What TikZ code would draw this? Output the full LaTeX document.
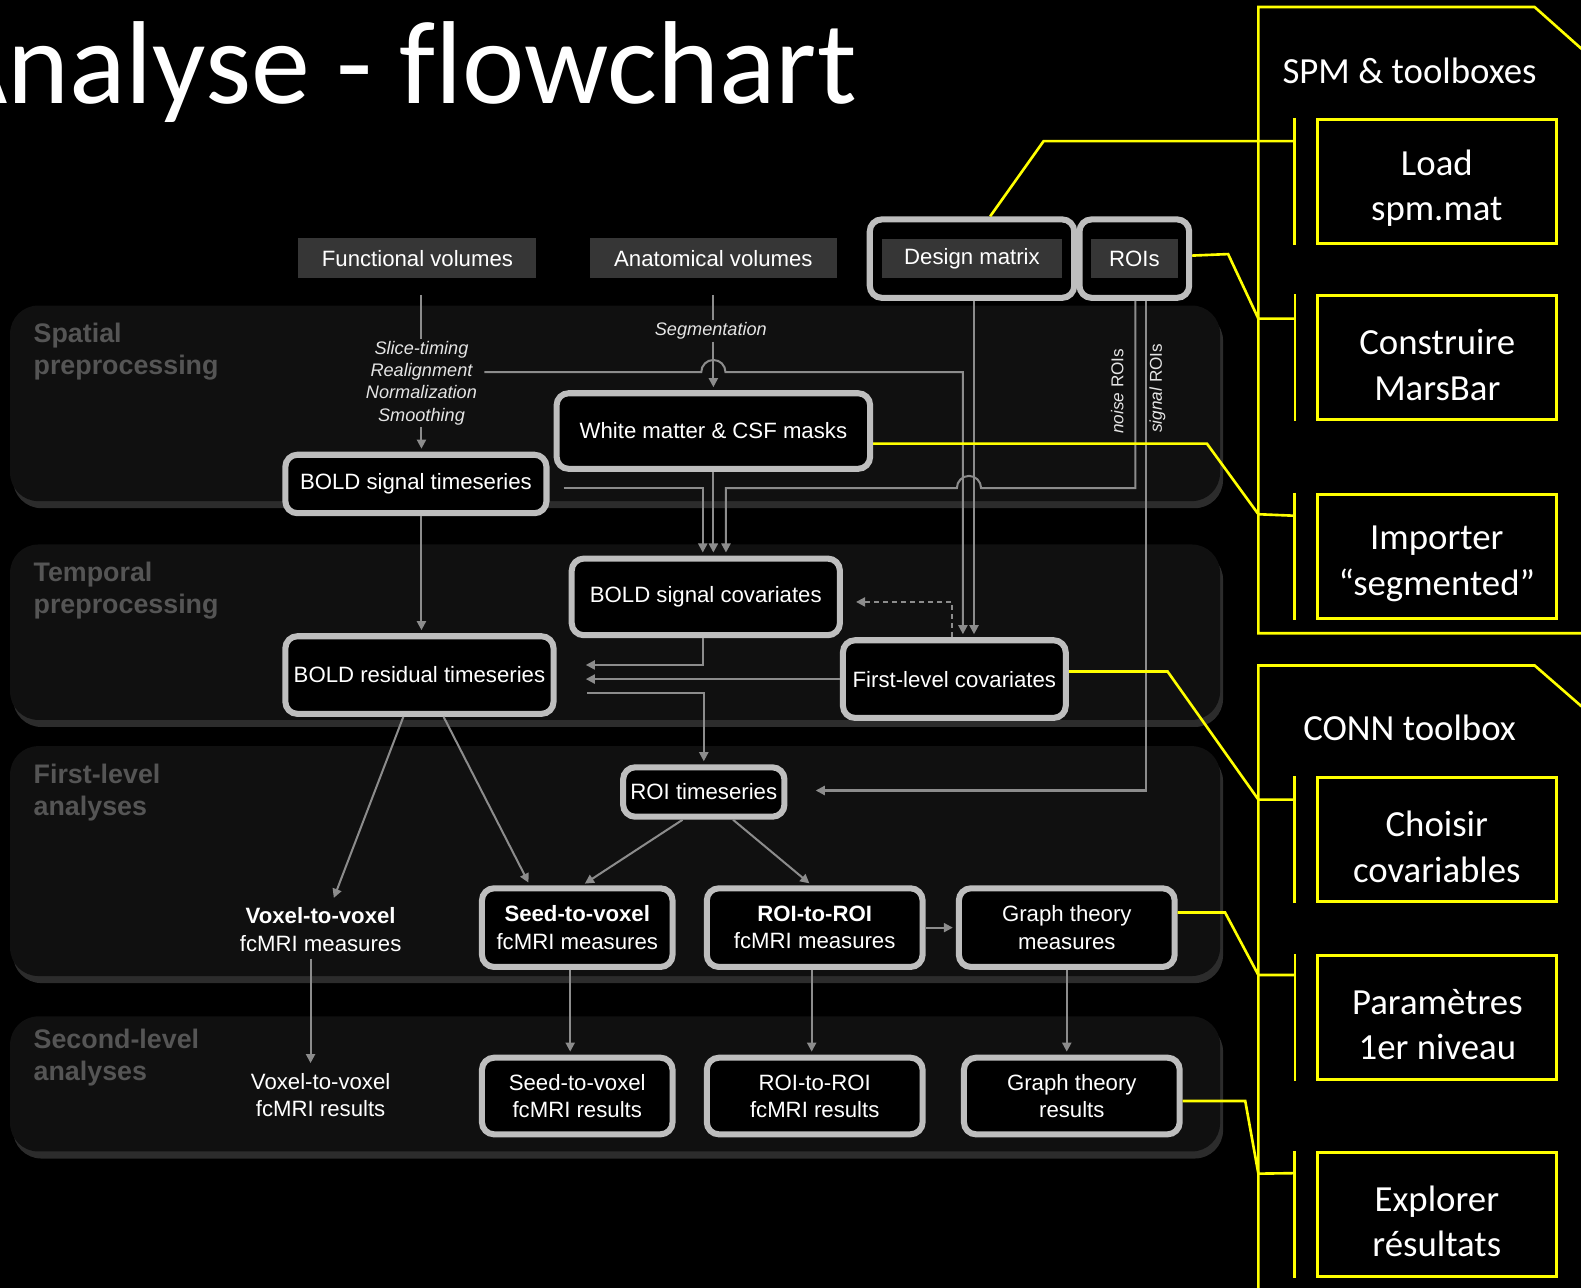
\documentclass[tikz,border=0pt]{standalone}
\usepackage{fontspec}
\setmainfont{Liberation Sans}
\newfontfamily\slidefont{Carlito}[Ligatures=NoCommon]
\usetikzlibrary{arrows.meta,calc,fit}

\definecolor{panelfill}{RGB}{16,16,16}
\definecolor{panelrim}{RGB}{44,44,44}
\definecolor{srcfill}{RGB}{54,54,54}
\definecolor{rimgray}{RGB}{190,190,190}
\definecolor{linegray}{RGB}{140,140,140}
\definecolor{phasegray}{RGB}{85,85,85}
\definecolor{hiyellow}{RGB}{255,255,0}

\tikzset{
  panel/.style={fill=panelfill, rounded corners=14pt},
  panelshadow/.style={fill=panelrim, rounded corners=14pt},
  phase/.style={anchor=north west, inner sep=0pt, align=left, text=phasegray,
    font=\fontsize{13.3}{16}\selectfont\bfseries},
  srcbox/.style={fill=srcfill, text=white, inner sep=0pt, font=\fontsize{11}{13}\selectfont},
  hlbox/.style={draw=rimgray, line width=3pt, rounded corners=6pt, fill=black, text=white,
    inner sep=0pt, align=center, font=\fontsize{11}{13.5}\selectfont},
  plainbox/.style={text=white, align=center, font=\fontsize{11}{13.5}\selectfont},
  stepnote/.style={text=white!90!black, align=center, inner sep=1pt,
    font=\fontsize{9}{11}\selectfont\itshape},
  roinote/.style={text=white!90!black, inner sep=1pt, rotate=90, font=\fontsize{8.5}{10}\selectfont},
  conn/.style={draw=linegray, line width=1pt},
  arr/.style={conn, shorten >=1.5pt, -{Triangle[length=4.5pt,width=4.5pt]}},
  ylw/.style={draw=hiyellow, line width=1.3pt},
  toolbox/.style={draw=hiyellow, line width=1.5pt, fill=black, text=white, align=center,
    minimum width=118.5pt, minimum height=61.5pt, inner sep=0pt,
    font=\slidefont\fontsize{18.25}{22.5}\selectfont},
  toolhead/.style={text=white, font=\slidefont\fontsize{18.25}{22.5}\selectfont},
}
% two lines of a tool box, set a little low as on the slide
\newcommand\toollines[2]{\rule{0pt}{19.5pt}#1\\#2}

\begin{document}
\begin{tikzpicture}[x=0.5pt, y=-0.5pt]

\useasboundingbox (0,0) rectangle (1568,1277);
\fill[black] (0,0) rectangle (1568,1277);
\clip (0,0) rectangle (1568,1277);

% Title
\node[anchor=base east, text=white, inner sep=0pt, font=\slidefont\fontsize{58.5}{70}\selectfont]
  (title) at (850,103) {Analyse - f\kern0pt lowchart};

% Processing stages
\foreach \top/\bot in {303/497, 540/714, 740/968, 1008/1142} {
  \fill[panelshadow] (13,\top+7) rectangle (1213,\bot+7);
  \fill[panel] (10,\top) rectangle (1210,\bot);
}
\node[phase] (spatial) at (33,320) {Spatial\\preprocessing};
\node[phase] (temporal) at (33,557) {Temporal\\preprocessing};
\node[phase] (firstlvl) at (33,757) {First-level\\analyses};
\node[phase] (secondlvl) at (33,1020) {Second-level\\analyses};

% Inputs
\node[srcbox, minimum width=118pt, minimum height=20pt] (fv) at (414,256) {Functional volumes};
\node[srcbox, minimum width=122.5pt, minimum height=20pt] (av) at (707.5,256) {Anatomical volumes};
\node[srcbox, minimum width=89pt, minimum height=19.5pt] (dm) at (964,256.5) {Design matrix};
\node[srcbox, minimum width=43pt, minimum height=19.5pt] (rois) at (1125,256.5) {ROIs};
\node[hlbox, fill=none, fit=(dm), inner xsep=6pt, inner ysep=9.5pt] (dmf) {};
\node[hlbox, fill=none, fit=(rois), inner xsep=5.5pt, inner ysep=9.5pt] (roisf) {};

% Spatial preprocessing
\node[stepnote] (steps) at (418,380) {Slice-timing\\Realignment\\Normalization\\Smoothing};
\node[stepnote] (seg) at (705,328) {Segmentation};
\node[hlbox, minimum width=155.5pt, minimum height=37.5pt] (wm) at (707.5,427.5) {White matter \& CSF masks};
\node[hlbox, minimum width=129.5pt, minimum height=29pt] (bst) at (412.5,480) {BOLD signal timeseries};
\node[roinote] (noise) at (1108,388) {\textit{noise} ROIs};
\node[roinote] (signal) at (1148,385) {\textit{signal} ROIs};

% Temporal preprocessing
\node[hlbox, minimum width=133pt, minimum height=38pt] (bsc) at (700,592) {BOLD signal covariates};
\node[hlbox, minimum width=133pt, minimum height=38.5pt] (brt) at (416,669.5) {BOLD residual timeseries};
\node[hlbox, minimum width=110.5pt, minimum height=38.5pt] (flc) at (946.5,673.5) {First-level covariates};

% First-level analyses
\node[hlbox, minimum width=80pt, minimum height=24.5pt] (roit) at (698,785.5) {ROI timeseries};
\node[plainbox] (v2v) at (318,922) {\textbf{Voxel-to-voxel}\\fcMRI measures};
\node[hlbox, minimum width=94.5pt, minimum height=39pt] (s2v) at (572.5,920) {\textbf{Seed-to-voxel}\\fcMRI measures};
\node[hlbox, minimum width=107pt, minimum height=39pt] (r2r) at (808,920) {\textbf{ROI-to-ROI}\\fcMRI measures};
\node[hlbox, minimum width=107pt, minimum height=39pt] (gtm) at (1058,920) {Graph theory\\measures};

% Second-level analyses
\node[plainbox] (v2vr) at (318,1086) {Voxel-to-voxel\\fcMRI results};
\node[hlbox, minimum width=94.5pt, minimum height=38pt] (s2vr) at (572.5,1087) {Seed-to-voxel\\fcMRI results};
\node[hlbox, minimum width=107pt, minimum height=38pt] (r2rr) at (808,1087) {ROI-to-ROI\\fcMRI results};
\node[hlbox, minimum width=107pt, minimum height=38pt] (gtr) at (1063,1087) {Graph theory\\results};

% Connectors
\draw[conn, shorten <=8pt] (fv.south -| steps) -- (steps);
\draw[arr] (steps) -- (bst.north -| steps);
\draw[conn, shorten <=8pt] (av.south) -- (av.south |- seg.north);
\draw[arr] (seg.south -| av) -- (wm);
\draw[arr] ($(steps.east)+(5,-11)$) -- ($(av |- steps.east)+(-12,-11)$)
  arc[start angle=180, end angle=360, radius=12]
  -- ($(flc.north |- steps.east)+(8.5,-11)$) -- ($(flc.north)+(8.5,0)$);
\draw[arr] (wm) -- (wm |- bsc.north);
\draw[arr] ($(bst.east)+(14,4)$) -| ($(bsc.north)+(-3,0)$);
\draw[arr] ($(roisf.south)+(1,0)$) |- (973,484)
  arc[start angle=0, end angle=-180, radius=12] -| ($(bsc.north)+(20,0)$);
\draw[arr] ($(roisf.south)+(12,0)$) |- ($(roit.east)+(25,-1.5)$);
\draw[arr] ($(dmf.south)+(2,0)$) -- ($(flc.north)+(19.5,0)$);
\draw[arr] (bst.south -| steps) -- (brt.north -| steps);
\draw[arr] ($(bsc.south)+(-3,0)$) |- ($(brt.east)+(26,-10)$);
\draw[arr] (flc.west) -- ($(brt.east |- flc.west)+(26,0)$);
\draw[arr, dash pattern=on 2.5pt off 2pt] ($(flc.north)+(-2,0)$) |- ($(bsc.east)+(10,5)$);
\draw[arr] ($(brt.east)+(30,18)$) -| (roit.north);
\draw[arr] ($(brt.south)+(-16,0)$) -- ($(v2v.north)+(12,0)$);
\draw[arr] ($(brt.south)+(24,0)$) -- ($(s2v.north)+(-47,0)$);
\draw[arr] ($(roit.south)+(-21,0)$) -- ($(s2v.north)+(5,0)$);
\draw[arr] ($(roit.south)+(29,0)$) -- ($(r2r.north)+(-3,0)$);
\draw[arr] (r2r) -- (gtm);
\draw[arr] ($(v2v.south)+(-10,0)$) -- ($(v2vr.north)+(-10,0)$);
\draw[arr] ($(s2v.south)+(-7,0)$) -- ($(s2vr.north)+(-7,0)$);
\draw[arr] ($(r2r.south)+(-3,0)$) -- ($(r2rr.north)+(-3,0)$);
\draw[arr] (gtm) -- (gtm |- gtr.north);

% SPM & toolboxes
\draw[ylw] (1600,628) -- (1248,628) -- (1248,7) -- (1522,7) -- (1600,76.5);
\node[toolhead] (spmhead) at (1398,70) {SPM \& toolboxes};
\node[toolbox] (load) at (1425,180) {\toollines{Load}{spm.mat}};
\node[toolbox] (mars) at (1425.5,355) {\toollines{Construire}{MarsBar}};
\node[toolbox] (imp) at (1425,551.5) {\toollines{Importer}{“segmented”}};

% CONN toolbox
\draw[ylw] (1248,1300) -- (1248,660) -- (1522,660) -- (1600,728);
\node[toolhead] (connhead) at (1398,722) {CONN toolbox};
\node[toolbox] (chois) at (1425,833) {\toollines{Choisir}{covariables}};
\node[toolbox] (param) at (1425.5,1009) {\toollines{Paramètres}{1er niveau}};
\node[toolbox] (expl) at (1425,1204.5) {\toollines{Explorer}{résultats}};

\foreach \b in {load,mars,imp,chois,param,expl}
  \draw[ylw] ($(\b.north west)+(-21,0)$) -- ($(\b.south west)+(-21,0)$);

% Links to the tools
\draw[ylw] ($(dmf.north)+(18,0)$) -- (1035,140) -- ($(load.west)+(-21,-40)$);
\draw[ylw] ($(roisf.east)+(0,-3)$) -- (1218,252) -- (1248,316) -- ($(mars.west)+(-21,-39)$);
\draw[ylw] ($(wm.east)+(0,12.5)$) -- (1197,440) -- (1248,510) -- ($(imp.west)+(-21,-40)$);
\draw[ylw] ($(flc.east)+(0,-7.5)$) -- (1158,666) -- (1248,793) -- ($(chois.west)+(-21,-40)$);
\draw[ylw] ($(gtm.east)+(0,-15)$) -- (1215,905) -- (1248,967) -- ($(param.west)+(-21,-42)$);
\draw[ylw] ($(gtr.east)+(0,5)$) -- (1235,1092) -- (1248,1164) -- ($(expl.west)+(-21,-41)$);

\end{tikzpicture}
\end{document}
